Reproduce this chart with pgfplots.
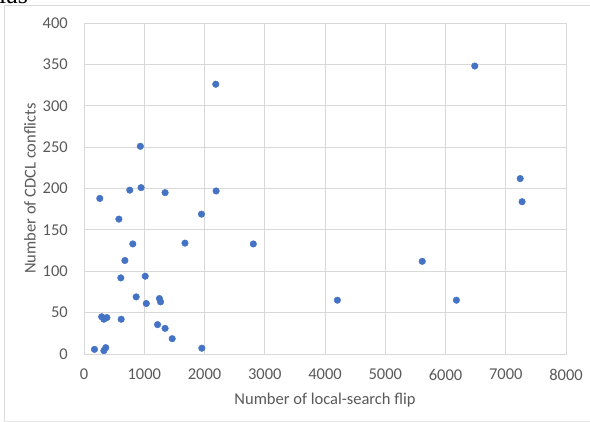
\documentclass[border=0pt]{standalone}
\usepackage{pgfplots}
\pgfplotsset{compat=1.18}
\usepackage{fontspec}
\setmainfont{Carlito}
\newfontfamily\seriffont{Liberation Serif}
\definecolor{gridgray}{HTML}{D9D9D9}
\definecolor{ticktext}{HTML}{595959}
\definecolor{ptblue}{HTML}{4472C4}
\begin{document}
\begin{tikzpicture}[x=1pt,y=1pt]
\useasboundingbox (0,0) rectangle (590,422);
\node[anchor=base west, inner sep=0, font=\fontsize{26}{28}\selectfont\seriffont] at (-1,418) {las};
\draw[gridgray, line width=1pt] (4,1) -- (4,416) -- (595,416);
\draw[gridgray!60, line width=0.6pt] (4,1) -- (595,1);
\begin{axis}[
  at={(84pt,68pt)}, anchor=south west,
  scale only axis, width=482pt, height=331pt,
  xmin=0, xmax=8000, ymin=0, ymax=400,
  xtick distance=1000, ytick distance=50,
  grid=major,
  major grid style={gridgray, line width=0.9pt},
  axis line style={gridgray, line width=0.9pt},
  major tick length=0pt,
  /pgf/number format/assume math mode=true,
  /pgf/number format/1000 sep={},
  tick label style={font=\fontsize{16.5}{18}\selectfont, text=ticktext, inner sep=0pt},
  xticklabel style={anchor=north, yshift=-15pt},
  yticklabel style={anchor=east, xshift=-16pt},
  clip=false,
]
\addplot[only marks, mark=*, mark size=3.3pt, ptblue, mark options={draw=ptblue, fill=ptblue}] table {
x y
174 5.6
262 188
293 45
330 42
380 44
330 4
361 7.7
579 163
611 92
617 42
679 113
760 198
810 133
866 69
935 251
947 201
1016 94
1034 61
1221 35.5
1252 67
1271 63
1346 195
1346 31
1464 18.5
1676 134
1950 169
1956 7
2187 326
2193 197
2810 133
4206 65
5614 112
6181 65
6486 348
7240 212
7271 184
};
\node[anchor=center, inner sep=0pt, text=ticktext, font=\fontsize{16.5}{18}\selectfont] at ([yshift=-46pt]axis description cs:0.5,0) {Number of local-search flip};
\node[anchor=center, inner sep=0pt, rotate=90, text=ticktext, font=\fontsize{16.5}{18}\selectfont] at ([xshift=-54pt]axis description cs:0,0.5) {Number of CDCL conflicts};
\end{axis}
\end{tikzpicture}
\end{document}
